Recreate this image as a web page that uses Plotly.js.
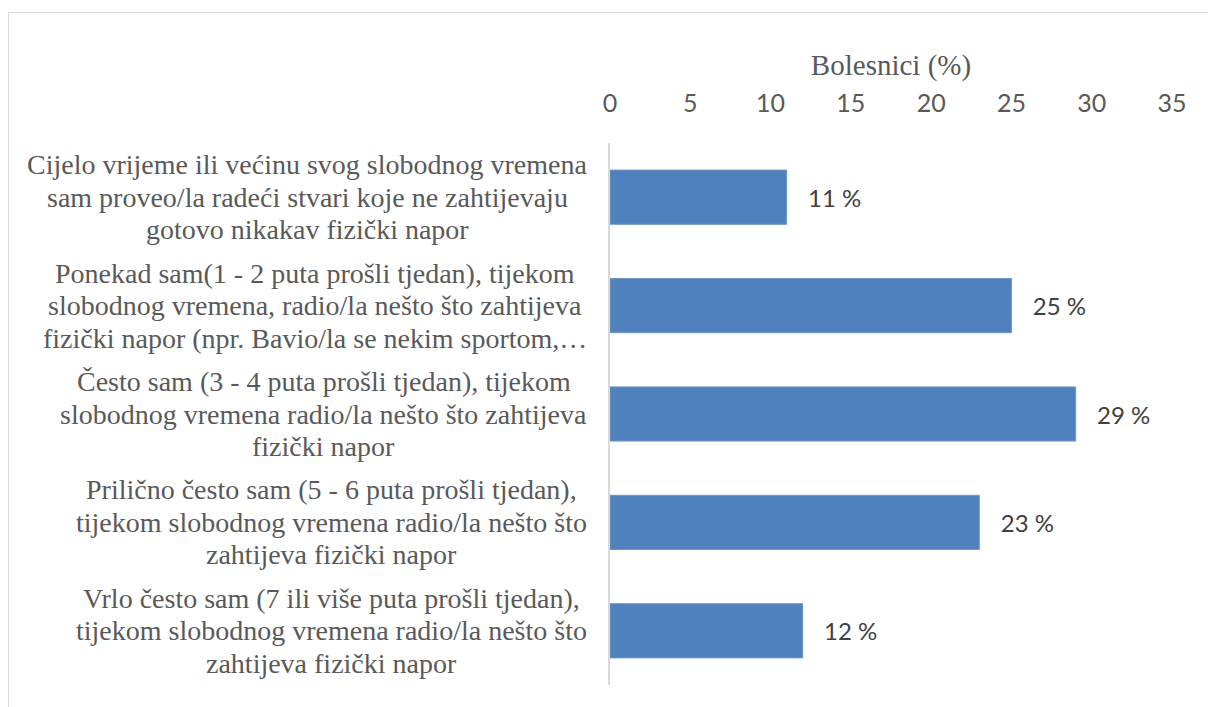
<!DOCTYPE html>
<html>
<head>
<meta charset="utf-8">
<script src="https://cdn.plot.ly/plotly-3.0.1.min.js"></script>
<style>
html,body{margin:0;padding:0;background:#fff;}
#wrap{position:relative;width:1208px;height:707px;overflow:hidden;}
#chart{position:absolute;left:0;top:0;width:1208px;height:707px;}
#frame{position:absolute;left:8px;top:12px;width:1400px;height:900px;border:1px solid #d9d9d9;pointer-events:none;}
</style>
</head>
<body>
<div id="wrap">
<div id="frame"></div>
<div id="chart"></div>
</div>
<script>
// Category labels, one array of lines per category
const categoryLines = [
  ["Cijelo vrijeme ili većinu svog slobodnog vremena", "sam proveo/la radeći stvari koje ne zahtijevaju", "gotovo nikakav fizički napor"],
  ["Ponekad sam(1 - 2 puta prošli tjedan), tijekom", "slobodnog vremena, radio/la nešto što zahtijeva", "fizički napor (npr. Bavio/la se nekim sportom,…"],
  ["Često sam (3 - 4 puta prošli tjedan), tijekom", "slobodnog vremena radio/la nešto što zahtijeva", "fizički napor"],
  ["Prilično često sam (5 - 6 puta prošli tjedan),", "tijekom slobodnog vremena radio/la nešto što", "zahtijeva fizički napor"],
  ["Vrlo često sam (7 ili više puta prošli tjedan),", "tijekom slobodnog vremena radio/la nešto što", "zahtijeva fizički napor"]
];
const catKeys = ["c1", "c2", "c3", "c4", "c5"];
const values = [11, 25, 29, 23, 12];
const xTicks = [0, 5, 10, 15, 20, 25, 30, 35];
const axisTitle = "Bolesnici (%)";

const SERIF = 'Liberation Serif';
const SANS = 'Lato';
const LABEL_SIZE = 28;
const LINE_GAP = 32.5;
const M = {l: 610, r: 36, t: 143, b: 22};
const PLOT_W = 1208 - M.l - M.r;
const LABEL_RIGHT = 587; // right edge of label block in px

const ctx = document.createElement('canvas').getContext('2d');
ctx.font = LABEL_SIZE + 'px "Liberation Serif"';

const labelAnnotations = [];
catKeys.forEach((k, i) => {
  const lines = categoryLines[i];
  const maxW = Math.max(...lines.map(s => ctx.measureText(s).width));
  const centerPx = LABEL_RIGHT - maxW / 2;
  const xPaper = (centerPx - M.l) / PLOT_W;
  const n = lines.length;
  lines.forEach((s, j) => {
    labelAnnotations.push({
      xref: 'paper', yref: 'y',
      x: xPaper, y: k,
      xanchor: 'center', yanchor: 'middle',
      yshift: -(j - (n - 1) / 2) * LINE_GAP,
      text: s,
      showarrow: false,
      font: {family: SERIF, size: LABEL_SIZE, color: '#595959'}
    });
  });
});

const trace = {
  type: 'bar',
  orientation: 'h',
  x: values,
  y: catKeys,
  marker: {color: '#4F81BD', line: {color: '#7096c8', width: 1}},
  text: values.map(v => v + ' %'),
  texttemplate: '\u00a0\u00a0\u00a0%{text}',
  textposition: 'outside',
  cliponaxis: false,
  textfont: {family: SANS, size: 24, color: '#404040'},
  hoverinfo: 'none'
};

const layout = {
  width: 1208, height: 707,
  margin: {l: M.l, r: M.r, t: M.t, b: M.b, pad: 0},
  paper_bgcolor: 'rgba(0,0,0,0)',
  plot_bgcolor: 'rgba(0,0,0,0)',
  showlegend: false,
  bargap: 0.5,
  xaxis: {
    side: 'top',
    range: [0, 35],
    tickvals: xTicks,
    ticktext: xTicks.map(String),
    showgrid: false, zeroline: false, showline: false, ticks: '',
    ticklabelstandoff: 25,
    tickfont: {family: SANS, size: 25, color: '#595959'},
    title: {text: axisTitle, standoff: 2,
      font: {family: SERIF, size: 29, color: '#595959'}},
    fixedrange: true
  },
  yaxis: {
    autorange: 'reversed',
    showticklabels: false,
    showgrid: false, zeroline: false,
    showline: true, linecolor: '#d9d9d9', linewidth: 2,
    ticks: '',
    fixedrange: true
  },
  annotations: labelAnnotations
};

Plotly.newPlot('chart', [trace], layout, {displayModeBar: false, staticPlot: true});
</script>
</body>
</html>
